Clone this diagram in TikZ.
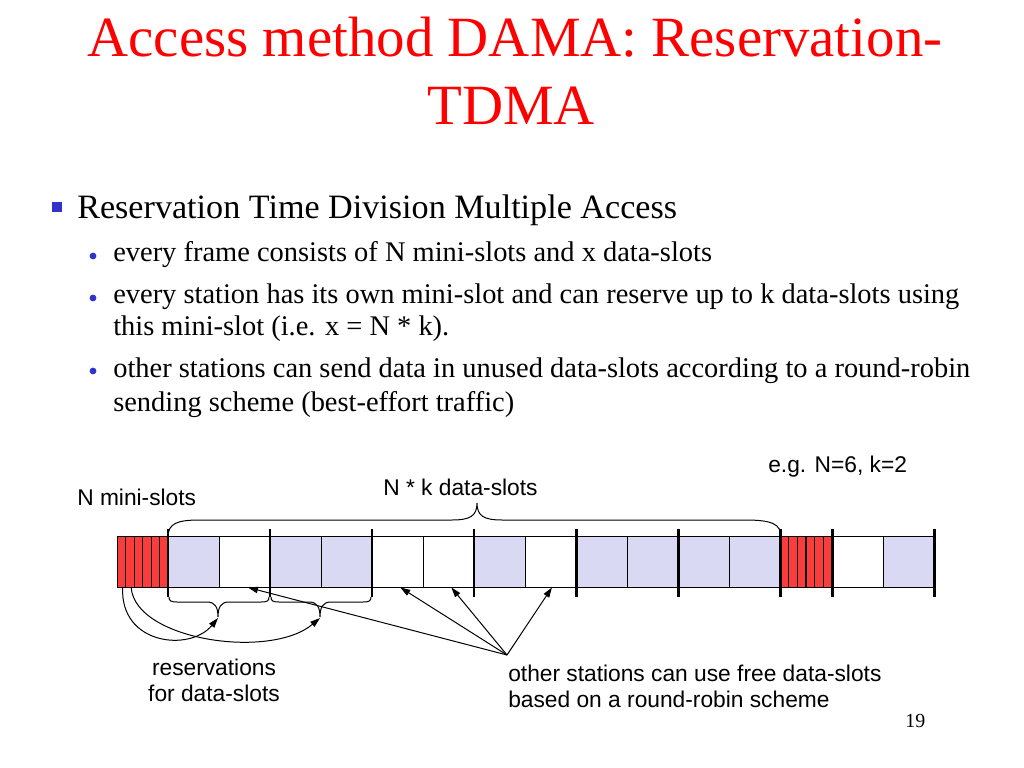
\documentclass[tikz,border=0pt]{standalone}
\usepackage{fontspec}
\setmainfont{Liberation Serif}
\newfontfamily\arialf{Liberation Sans}
\usetikzlibrary{arrows.meta}
\definecolor{lav}{RGB}{217,217,243}
\definecolor{slred}{RGB}{250,60,60}
\definecolor{bulblue}{RGB}{51,51,204}
\definecolor{titlered}{RGB}{255,0,0}
\begin{document}
\begin{tikzpicture}[x=0.703125pt,y=-0.703125pt,
  titletext/.style={text=titlered,font=\fontsize{40}{48}\selectfont,anchor=base,inner sep=0},
  lvlone/.style={font=\fontsize{24}{28}\selectfont,anchor=base west,inner sep=0},
  lvltwo/.style={font=\fontsize{20}{24}\selectfont,anchor=base west,inner sep=0},
  lab/.style={font=\arialf\fontsize{16}{19}\selectfont,inner sep=0},
  slot/.style={draw=black,line width=0.7pt,minimum width=35.86pt,minimum height=35.86pt,inner sep=0,outer sep=0},
  mini/.style={draw=black,line width=0.7pt,fill=slred,minimum width=5.98pt,minimum height=35.86pt,inner sep=0,outer sep=0},
  sepline/.style={line width=2.1pt},
  arr/.style={-{Triangle[length=7pt,width=4.5pt]},line width=0.7pt},
  bracestyle/.style={line width=0.7pt}
]
\useasboundingbox[fill=white] (0,0) rectangle (1024,768);

% title
\node[titletext] (t1) at (515,57) {Access method DAMA: Reservation-};
\node[titletext] (t2) at (511,125) {TDMA};

% bullets
\fill[bulblue] (52,202) rectangle (62,212);
\node[lvlone] (b1) at (77,219) {Reservation Time Division Multiple Access};
\foreach \yy in {256,298,371} \fill[bulblue] (93,\yy) circle (3.4);
\node[lvltwo] (b2) at (113,262) {every frame consists of N mini-slots and x data-slots};
\node[lvltwo] (b3) at (113,303) {every station has its own mini-slot and can reserve up to k data-slots using};
\node[lvltwo] (b3b) at (113,336) {this mini-slot (i.e. x = N * k).};
\node[lvltwo] (b4) at (113,377) {other stations can send data in unused data-slots according to a round-robin};
\node[lvltwo] (b4b) at (113,411) {sending scheme (best-effort traffic)};

% mini slots
\foreach \j in {1,...,6} {
  \node[mini] (m\j) at ({117+8.5*(\j-0.5)},562) {};
  \node[mini] (n\j) at ({780+8.6667*(\j-0.5)},562) {};
}
% data slots
\foreach \i/\c in {1/lav,2/white,3/lav,4/lav,5/white,6/white,7/lav,8/white,9/lav,10/lav,11/lav,12/lav} {
  \node[slot,fill=\c] (d\i) at ({142.5+51*\i},562) {};
}
\node[slot,fill=white] (d13) at (857.5,562) {};
\node[slot,fill=lav] (d14) at (908.5,562) {};

% separators
\foreach \xx in {168,270,372,474,576,678,780,832,934}
  \draw[sepline] (\xx,529) -- (\xx,597);

% top brace
\draw[bracestyle] (168,537) .. controls (168,523) and (178,520) .. (200,520) -- (452,520)
  .. controls (470,520) and (477,516) .. (477,503)
  .. controls (477,516) and (484,520) .. (502,520) -- (745,520)
  .. controls (772,520) and (781,524) .. (781,537);

% lower braces
\draw[bracestyle] (169,597) .. controls (169,601) and (171,602) .. (177,602) -- (207,602)
  .. controls (215,602) and (218,607) .. (218,617)
  .. controls (218,607) and (221,602) .. (229,602) -- (261,602)
  .. controls (267,602) and (269,601) .. (269,597);
\draw[bracestyle] (271,597) .. controls (271,601) and (273,602) .. (279,602) -- (309,602)
  .. controls (317,602) and (320,607) .. (320,617)
  .. controls (320,607) and (323,602) .. (331,602) -- (363,602)
  .. controls (369,602) and (371,601) .. (371,597);
\coordinate (r1) at (218,618);
\coordinate (r2) at (320,618);

% reservation arrows
\draw[arr] ([xshift=1pt]m1.south) .. controls (120,645) and (190,652) .. (r1);
\draw[arr] ([xshift=1pt]m2.south) .. controls (135,640) and (270,660) .. (r2);

% hub arrows
\coordinate (hub) at (507,655);
\draw[arr] (hub) -- ([xshift=2.5pt]d2.south);
\draw[arr] (hub) -- ([xshift=2pt]d5.south);
\draw[arr] (hub) -- ([xshift=2pt]d6.south);
\draw[arr] (hub) -- ([xshift=1pt]d8.south);

% labels
\node[lab,anchor=base west] (lmini) at (77,505) {N mini-slots};
\node[lab,anchor=base west] (ldata) at (383,495) {N * k data-slots};
\node[lab,anchor=base west] (leg) at (768,472) {e.g. N=6, k=2};
\node[lab,anchor=base] (lres1) at (214,675) {reservations};
\node[lab,anchor=base] (lres2) at (214,701) {for data-slots};
\node[lab,anchor=base west] (loth1) at (508,681) {other stations can use free data-slots};
\node[lab,anchor=base west] (loth2) at (508,707) {based on a round-robin scheme};
\node[font=\fontsize{14}{17}\selectfont,anchor=base west,inner sep=0] (pg) at (905,727) {19};
\end{tikzpicture}
\end{document}
